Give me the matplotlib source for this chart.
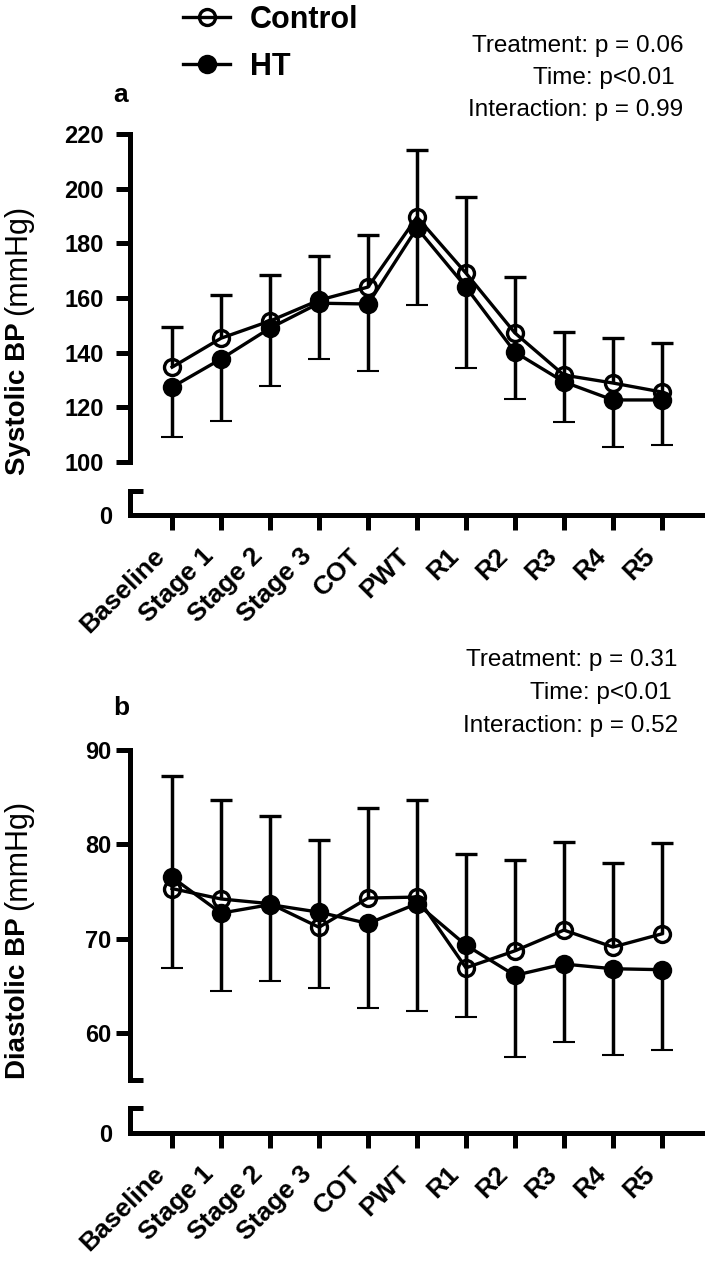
import numpy as np
import matplotlib.pyplot as plt

plt.rcParams['font.family'] = ['Liberation Sans', 'DejaVu Sans']
plt.rcParams['font.weight'] = 'bold'

# time points on the x axis
timepoints = ["Baseline", "Stage 1", "Stage 2", "Stage 3", "COT", "PWT",
              "R1", "R2", "R3", "R4", "R5"]

# systolic BP (mmHg): mean and SD
sys_control = [134.7, 145.3, 151.6, 159.2, 164.0, 189.6, 169.1, 147.2, 131.8, 128.9, 125.6]
sys_control_sd = [14.7, 15.8, 16.8, 16.1, 19.0, 24.5, 27.8, 20.4, 15.7, 16.4, 17.9]
sys_ht = [127.4, 137.7, 149.0, 158.1, 157.8, 185.6, 164.0, 140.2, 129.3, 122.7, 122.7]
sys_ht_sd = [18.3, 22.7, 21.2, 20.4, 24.5, 28.2, 29.6, 17.2, 14.7, 17.2, 16.5]

# diastolic BP (mmHg): mean and SD
dia_control = [75.3, 74.2, 73.7, 71.2, 74.3, 74.4, 66.9, 68.7, 70.9, 69.1, 70.5]
dia_control_sd = [11.9, 10.5, 9.3, 9.3, 9.5, 10.3, 12.1, 9.6, 9.3, 8.9, 9.6]
dia_ht = [76.5, 72.7, 73.6, 72.8, 71.6, 73.7, 69.3, 66.1, 67.3, 66.8, 66.7]
dia_ht_sd = [9.6, 8.3, 8.1, 8.0, 9.0, 11.4, 7.6, 8.7, 8.3, 9.1, 8.5]

sys_ticks = [100, 120, 140, 160, 180, 200, 220]
dia_ticks = [60, 70, 80, 90]

stats_a = ["Treatment: p = 0.06", "Time: p<0.01", "Interaction: p = 0.99"]
stats_b = ["Treatment: p = 0.31", "Time: p<0.01", "Interaction: p = 0.52"]

W, H = 709, 1269
LW = 3.6
fig = plt.figure(figsize=(W / 100, H / 100), dpi=100)
x = np.arange(len(timepoints))
xlim = (-0.86, 10.82)


def px_axes(x0, y0, x1, y1):
    # box given in pixels from the top-left corner
    ax = fig.add_axes([x0 / W, 1 - y1 / H, (x1 - x0) / W, (y1 - y0) / H])
    ax.patch.set_visible(False)
    for s in ax.spines.values():
        s.set_linewidth(LW)
        s.set_capstyle('projecting')
    ax.spines['top'].set_visible(False)
    ax.spines['right'].set_visible(False)
    return ax


def panel(rows, ylim, yticks, ctrl, ctrl_sd, ht, ht_sd, ylab, ylab_y, letter, letter_y,
          stats, stat_y, ypad):
    top, bot, stub_top, stub_bot = rows
    ax = px_axes(130, top, 702, bot)
    ax.spines['bottom'].set_visible(False)
    ax.set_xlim(xlim)
    ax.set_ylim(ylim)
    ax.set_yticks(yticks)
    ax.set_yticks([ylim[0]], minor=True)
    ax.tick_params(axis='y', which='major', direction='out', length=10, width=LW,
                   labelsize=17, pad=ypad)
    ax.tick_params(axis='y', which='minor', direction='in', length=9.5, width=LW)
    ax.tick_params(axis='x', bottom=False, labelbottom=False)

    zeros = np.zeros(len(x))
    ec = ax.errorbar(x, ctrl, yerr=[zeros, ctrl_sd], fmt='-o', color='black', lw=2.4,
                     ms=11.5, mfc='none', mec='black', mew=2.4, elinewidth=2.5,
                     capsize=8, capthick=2.5, clip_on=False)
    ec[1][0].set_visible(False)
    eh = ax.errorbar(x, ht, yerr=[ht_sd, zeros], fmt='-o', color='black', lw=2.4,
                     ms=12.5, mfc='black', mec='black', mew=1.5, elinewidth=2.5,
                     capsize=8, capthick=2.5, clip_on=False)
    eh[1][1].set_visible(False)

    stub = px_axes(130, stub_top, 702, stub_bot)
    stub.set_xlim(xlim)
    stub.set_ylim(0, 1)
    stub.set_yticks([0])
    stub.set_yticks([1], minor=True)
    stub.tick_params(axis='y', which='major', length=0, labelsize=17, pad=13)
    stub.tick_params(axis='y', which='minor', direction='in', length=9.5, width=LW)
    stub.set_xticks(x)
    stub.tick_params(axis='x', direction='out', length=11, width=LW, labelbottom=False)
    for i, name in enumerate(timepoints):
        stub.annotate(name, xy=(x[i], 0), xycoords=('data', 'axes fraction'),
                      xytext=(-8, -27), textcoords='offset points', rotation=45,
                      ha='right', va='center', rotation_mode='anchor', fontsize=19)

    # y label: bold measure, regular unit
    fig.text(18 / W, 1 - ylab_y / H, ylab[0], rotation=90, rotation_mode='anchor',
             ha='right', va='center', fontsize=20)
    fig.text(18 / W, 1 - (ylab_y - 7) / H, ylab[1], rotation=90, rotation_mode='anchor',
             ha='left', va='center', fontsize=22, fontweight='normal')

    fig.text(121 / W, 1 - letter_y / H, letter, ha='center', va='center', fontsize=19)
    for s, (xr, yc) in zip(stats, stat_y):
        fig.text(xr / W, 1 - yc / H, s, ha='right', va='center', fontsize=17.5,
                 fontweight='normal')
    return ec, eh


ec, eh = panel((134, 462, 491, 515), (100, 220), sys_ticks,
               sys_control, sys_control_sd, sys_ht, sys_ht_sd,
               ("Systolic BP", "(mmHg)"), 322, "a", 95,
               stats_a, [(683, 46), (675, 78), (683, 110)], 9)
panel((750, 1080, 1108, 1133), (55, 90), dia_ticks,
      dia_control, dia_control_sd, dia_ht, dia_ht_sd,
      ("Diastolic BP", "(mmHg)"), 917, "b", 708,
      stats_b, [(677, 660), (672, 693), (678, 726)], 3.5)

fig.legend([ec[0], eh[0]], ["Control", "HT"], loc='upper left',
           bbox_to_anchor=(183 / W, 1 - 5 / H), frameon=False, borderpad=0,
           borderaxespad=0, handlelength=1.55, handletextpad=0.65, labelspacing=0.55,
           prop={'weight': 'bold', 'size': 22})

fig.savefig("out.png", dpi=100)
